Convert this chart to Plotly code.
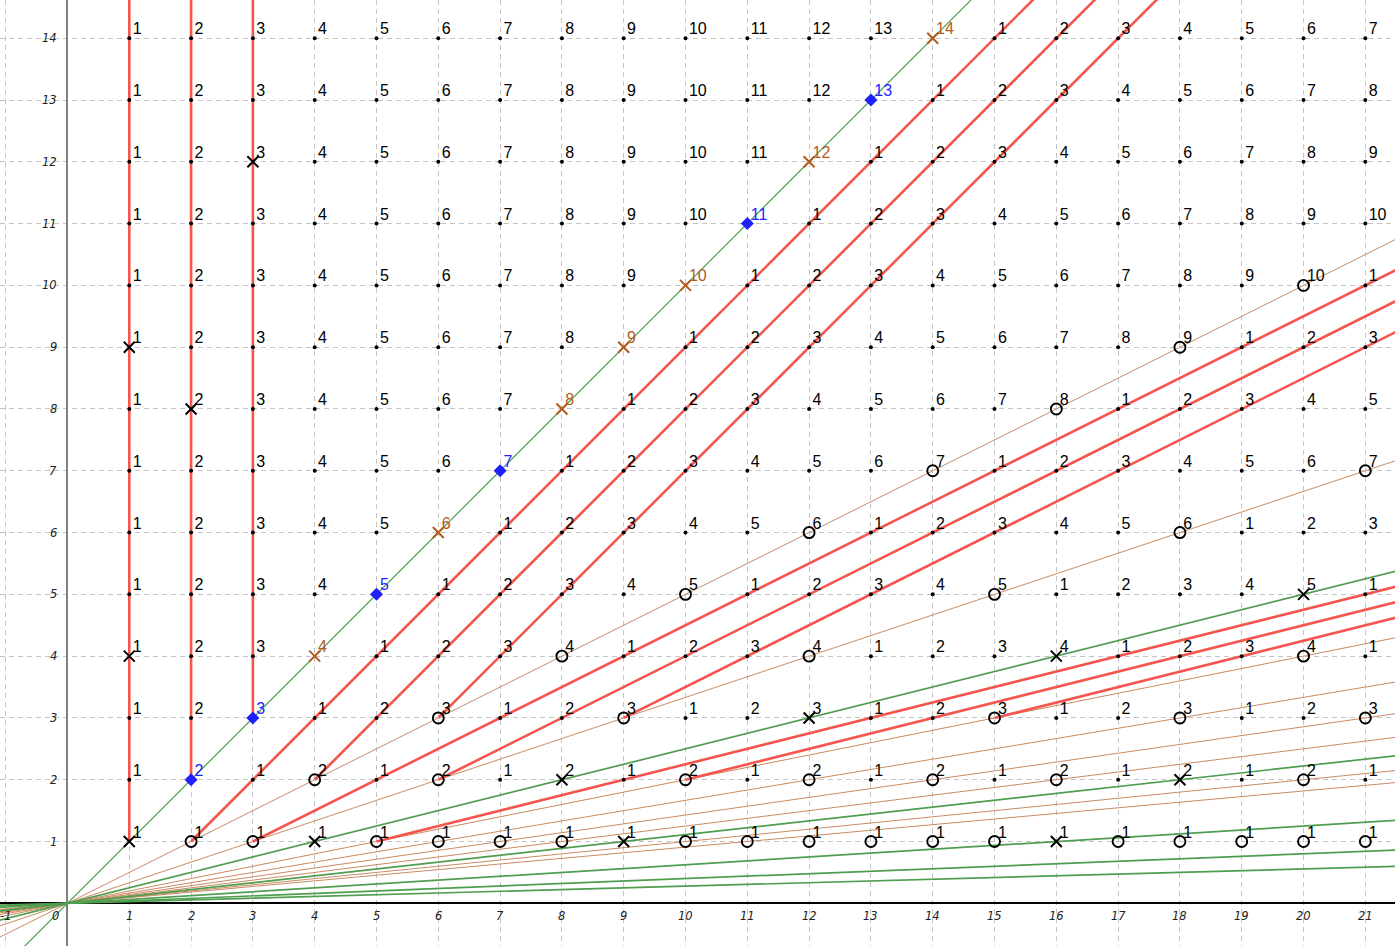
import plotly.graph_objects as go

# ---------------- data ----------------
# grid columns / rows
grid_x = list(range(1, 22))
grid_y = list(range(1, 15))

# label shown next to every grid point, one list per row (y = 1 .. 14), x = 1 .. 21
label_rows = [
    [1, 1, 1, 1, 1, 1, 1, 1, 1, 1, 1, 1, 1, 1, 1, 1, 1, 1, 1, 1, 1],
    [1, 2, 1, 2, 1, 2, 1, 2, 1, 2, 1, 2, 1, 2, 1, 2, 1, 2, 1, 2, 1],
    [1, 2, 3, 1, 2, 3, 1, 2, 3, 1, 2, 3, 1, 2, 3, 1, 2, 3, 1, 2, 3],
    [1, 2, 3, 4, 1, 2, 3, 4, 1, 2, 3, 4, 1, 2, 3, 4, 1, 2, 3, 4, 1],
    [1, 2, 3, 4, 5, 1, 2, 3, 4, 5, 1, 2, 3, 4, 5, 1, 2, 3, 4, 5, 1],
    [1, 2, 3, 4, 5, 6, 1, 2, 3, 4, 5, 6, 1, 2, 3, 4, 5, 6, 1, 2, 3],
    [1, 2, 3, 4, 5, 6, 7, 1, 2, 3, 4, 5, 6, 7, 1, 2, 3, 4, 5, 6, 7],
    [1, 2, 3, 4, 5, 6, 7, 8, 1, 2, 3, 4, 5, 6, 7, 8, 1, 2, 3, 4, 5],
    [1, 2, 3, 4, 5, 6, 7, 8, 9, 1, 2, 3, 4, 5, 6, 7, 8, 9, 1, 2, 3],
    [1, 2, 3, 4, 5, 6, 7, 8, 9, 10, 1, 2, 3, 4, 5, 6, 7, 8, 9, 10, 1],
    [1, 2, 3, 4, 5, 6, 7, 8, 9, 10, 11, 1, 2, 3, 4, 5, 6, 7, 8, 9, 10],
    [1, 2, 3, 4, 5, 6, 7, 8, 9, 10, 11, 12, 1, 2, 3, 4, 5, 6, 7, 8, 9],
    [1, 2, 3, 4, 5, 6, 7, 8, 9, 10, 11, 12, 13, 1, 2, 3, 4, 5, 6, 7, 8],
    [1, 2, 3, 4, 5, 6, 7, 8, 9, 10, 11, 12, 13, 14, 1, 2, 3, 4, 5, 6, 7],
]

# diagonal points: primes (blue diamonds) and composites (brown crosses)
prime_diag = [2, 3, 5, 7, 11, 13]
composite_diag = [4, 6, 8, 9, 10, 12, 14]

# black crosses
cross_x = [1, 4, 9, 16, 8, 18, 12, 16, 20, 1, 1, 2, 3]
cross_y = [1, 1, 1, 1, 2, 2, 3, 4, 5, 4, 9, 8, 12]

# open circles
circle_x = [2, 3, 5, 6, 7, 8, 10, 11, 12, 13, 14, 15, 17, 18, 19, 20, 21,
            4, 6, 10, 12, 14, 16, 20,
            6, 9, 15, 18, 21,
            8, 12, 20,
            10, 15,
            12, 18,
            14, 21,
            16, 18, 20]
circle_y = [1] * 17 + [2] * 7 + [3] * 5 + [4] * 3 + [5] * 2 + [6] * 2 + [7] * 2 + [8, 9, 10]

# lines through the origin y = x / n
green_n = [1, 4, 9, 16, 25, 36]
brown_n = [2, 3, 5, 6, 7, 8, 10, 11]

# red rays: start point and horizontal run per unit of rise
red_start_x = [1, 2, 3, 5, 2, 4, 6, 10, 3, 6, 9, 15]
red_start_y = [1, 1, 1, 1, 2, 2, 2, 2, 3, 3, 3, 3]
red_run = [0, 1, 2, 4, 0, 1, 2, 4, 0, 1, 2, 4]

# axis tick labels
x_tick_vals = [-1, 0] + list(range(1, 22))
y_tick_vals = list(range(1, 15))

# ---------------- styles ----------------
GREEN = "#4f9d4f"
BROWN_LINE = "#c98b63"
RED = "#f4564e"
BLUE = "#1f1fff"
BROWN = "#b35a1c"
LABEL_FONT = "Liberation Sans"

X_RANGE = [-1.092, 21.48]
Y_RANGE = [-0.691, 14.619]

fig = go.Figure()

# origin lines
x_far = [-2.0, 40.0]
for n in brown_n:
    fig.add_trace(go.Scatter(x=x_far, y=[v / n for v in x_far], mode="lines",
                             line=dict(color=BROWN_LINE, width=1), hoverinfo="skip"))
for n in green_n:
    fig.add_trace(go.Scatter(x=x_far, y=[v / n for v in x_far], mode="lines",
                             line=dict(color=GREEN, width=1.2 if n == 1 else 1.7),
                             hoverinfo="skip"))

# red rays
y_top = 16.0
for sx, sy, run in zip(red_start_x, red_start_y, red_run):
    fig.add_trace(go.Scatter(x=[sx, sx + run * (y_top - sy)], y=[sy, y_top], mode="lines",
                             line=dict(color=RED, width=2.6), hoverinfo="skip"))

# marked point sets
marked = set(zip(cross_x, cross_y)) | set(zip(circle_x, circle_y))
marked |= {(p, p) for p in prime_diag} | {(c, c) for c in composite_diag}

dot_x, dot_y = [], []
lab_x, lab_y, lab_t, lab_c = [], [], [], []
for j, gy in enumerate(grid_y):
    for i, gx in enumerate(grid_x):
        if (gx, gy) not in marked:
            dot_x.append(gx)
            dot_y.append(gy)
        lab_x.append(gx + 0.055)
        lab_y.append(gy)
        lab_t.append(str(label_rows[j][i]))
        if gx == gy and gx in prime_diag:
            lab_c.append(BLUE)
        elif gx == gy and gx in composite_diag:
            lab_c.append(BROWN)
        else:
            lab_c.append("black")

fig.add_trace(go.Scatter(x=dot_x, y=dot_y, mode="markers",
                         marker=dict(color="black", size=4), hoverinfo="skip"))
fig.add_trace(go.Scatter(x=circle_x, y=circle_y, mode="markers",
                         marker=dict(symbol="circle-open", color="black", size=11,
                                     line=dict(width=1.9, color="black")), hoverinfo="skip"))
fig.add_trace(go.Scatter(x=cross_x, y=cross_y, mode="markers",
                         marker=dict(symbol="x-thin-open", color="black", size=11,
                                     line=dict(width=2, color="black")), hoverinfo="skip"))
fig.add_trace(go.Scatter(x=composite_diag, y=composite_diag, mode="markers",
                         marker=dict(symbol="x-thin-open", color=BROWN, size=11,
                                     line=dict(width=2, color=BROWN)), hoverinfo="skip"))
fig.add_trace(go.Scatter(x=prime_diag, y=prime_diag, mode="markers",
                         marker=dict(symbol="diamond", color=BLUE, size=10,
                                     line=dict(width=0)), hoverinfo="skip"))

# point labels
fig.add_trace(go.Scatter(x=lab_x, y=lab_y, mode="text", text=lab_t,
                         textposition="top right",
                         textfont=dict(family=LABEL_FONT, size=16, color=lab_c),
                         hoverinfo="skip"))

# axis tick labels
ann = []
tick_font = dict(family="DejaVu Sans", size=11.5, color="#222222", style="italic")
for v in x_tick_vals:
    ann.append(dict(x=v, y=0, xref="x", yref="y", text=str(v), showarrow=False,
                    xanchor="center", yanchor="top", yshift=-4,
                    xshift=-12 if v == 0 else 0, font=tick_font))
for v in y_tick_vals:
    ann.append(dict(x=0, y=v, xref="x", yref="y", text=str(v), showarrow=False,
                    xanchor="right", yanchor="middle", xshift=-8, font=tick_font))

fig.update_layout(
    width=1395, height=946,
    margin=dict(l=0, r=0, t=0, b=0),
    paper_bgcolor="white", plot_bgcolor="white",
    showlegend=False,
    annotations=ann,
    xaxis=dict(range=X_RANGE, dtick=1, tick0=0, showgrid=True, gridcolor="#c4c4c4",
               griddash="5px,4px", gridwidth=1, zeroline=True, zerolinecolor="#808080",
               zerolinewidth=2, showticklabels=False, ticks="", fixedrange=True),
    yaxis=dict(range=Y_RANGE, dtick=1, tick0=0, showgrid=True, gridcolor="#c4c4c4",
               griddash="5px,4px", gridwidth=1, zeroline=True, zerolinecolor="black",
               zerolinewidth=1.5, showticklabels=False, ticks="", fixedrange=True),
)

fig.write_html("out.html",
               config={"displayModeBar": False},
               post_script="document.body.style.margin='0';document.body.style.overflow='hidden';")
